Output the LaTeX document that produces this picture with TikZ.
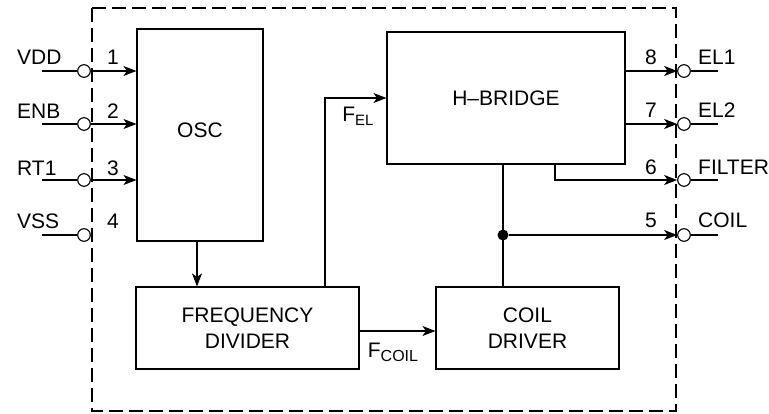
\documentclass[tikz,border=0pt]{standalone}
\usepackage{fontspec}
\setmainfont{Liberation Sans}
\usetikzlibrary{arrows.meta}
\begin{document}
\begin{tikzpicture}[x=1pt,y=-1pt,
  every node/.style={font=\fontsize{21}{26}\selectfont, inner sep=0pt},
  blk/.style={draw, line width=1.1pt, align=center},
  pin/.style={circle, draw, line width=1.1pt, minimum size=12.6pt},
  wire/.style={line width=1.1pt},
  arr/.style={line width=1.1pt, -{Stealth[length=13pt,width=10pt,inset=3.5pt]}},
  jdot/.style={circle, fill=black, minimum size=11pt},
  border/.style={line width=2.2pt, dash pattern=on 14pt off 6pt}]
\useasboundingbox (0,0) rectangle (769,413);
\draw[border] (92,8) rectangle (676,411);

% blocks
\node[blk, minimum width=126pt, minimum height=212pt] (osc) at (200,135) {};
\node (osct) at (200,130) {OSC};
\node[blk, minimum width=238pt, minimum height=132pt] (hb) at (506,98) {H\textendash BRIDGE};
\node[blk, minimum width=223pt, minimum height=82pt] (fd) at (247.5,328) {FREQUENCY\\DIVIDER};
\node[blk, minimum width=183pt, minimum height=82pt] (cd) at (527.5,328) {COIL\\DRIVER};

% left pins
\foreach \i/\y/\t/\ty in {1/71/VDD/57, 2/124/ENB/111, 3/180/RT1/168, 4/235/VSS/221}{
  \node[pin] (p\i) at (84,\y) {};
  \coordinate (e\i) at (42,\y);
  \draw[wire] (e\i) -- (p\i.west);
  \node[anchor=west] (l\i) at (17,\ty) {\t};
  \node (n\i) at (113,\ty) {\i};
}
\foreach \i in {1,2,3}{
  \draw[arr] (p\i.east) -- (p\i.east -| osc.west);
}

% right pins
\foreach \i/\y/\t/\ty in {8/71/EL1/57, 7/124/EL2/110, 6/180/FILTER/167, 5/235/COIL/220}{
  \node[pin] (p\i) at (684,\y) {};
  \coordinate (e\i) at (718,\y);
  \draw[wire] (p\i.east) -- (e\i);
  \node[anchor=west] (l\i) at (698,\ty) {\t};
  \node (n\i) at (651,\ty) {\i};
}
\draw[arr] (p8.west -| hb.east) -- (p8.west);
\draw[arr] (p7.west -| hb.east) -- (p7.west);
\coordinate (tf) at (555,164);
\draw[arr] (tf) |- (p6.west);
\node[jdot] (jn) at (503,235) {};
\draw[wire] (hb.south -| jn) -- (cd.north -| jn);
\draw[arr] (jn) -- (p5.west);

% internal signals
\coordinate (oa) at (197,241);
\draw[arr] (oa) -- (oa |- fd.north);
\coordinate (fa) at (325,287);
\draw[arr] (fa) |- (hb.west);
\draw[arr] ([yshift=-3pt]fd.east) -- ([yshift=-3pt]cd.west);

\node (lfel) at (358,116) {F\raisebox{-4pt}{\fontsize{15}{15}\selectfont EL}};
\node (lfcoil) at (393,352) {F\raisebox{-4pt}{\fontsize{16}{16}\selectfont COIL}};
\end{tikzpicture}
\end{document}
